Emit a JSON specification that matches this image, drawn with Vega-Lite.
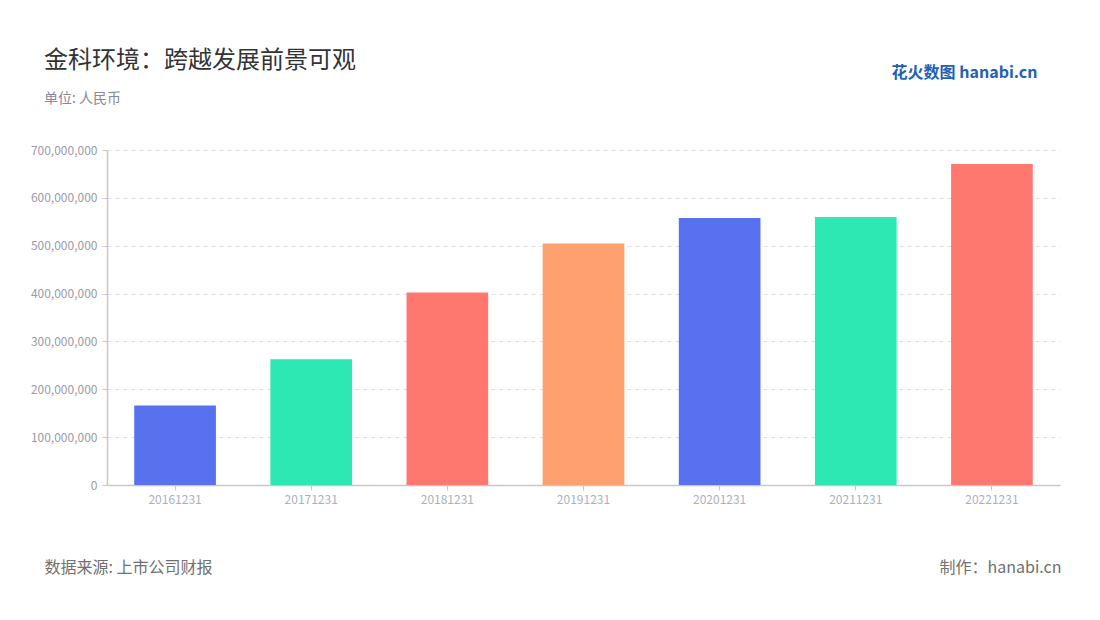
{
  "$schema": "https://vega.github.io/schema/vega-lite/v6.json",
  "autosize": {"type": "none"},
  "width": 953,
  "height": 335,
  "padding": {"left": 107, "top": 150, "right": 40, "bottom": 135},
  "background": "white",
  "config": {
    "font": "Noto Sans CJK SC",
    "view": {"stroke": null}
  },
  "title": {
    "text": "金科环境：跨越发展前景可观",
    "subtitle": "单位: 人民币",
    "anchor": "start",
    "frame": "group",
    "dx": -63,
    "offset": -42,
    "fontSize": 24,
    "fontWeight": "normal",
    "color": "#333333",
    "subtitleFontSize": 14,
    "subtitleColor": "#888899",
    "subtitlePadding": 19,
    "font": "Noto Sans CJK SC",
    "subtitleFont": "Noto Sans CJK SC"
  },
  "data": {
    "values": [
      {"date": "20161231", "value": 166000000},
      {"date": "20171231", "value": 263000000},
      {"date": "20181231", "value": 402000000},
      {"date": "20191231", "value": 504500000},
      {"date": "20201231", "value": 558000000},
      {"date": "20211231", "value": 560000000},
      {"date": "20221231", "value": 671000000}
    ]
  },
  "layer": [
    {
      "mark": {"type": "bar"},
      "encoding": {
        "x": {
          "field": "date",
          "type": "nominal",
          "sort": null,
          "scale": {"paddingInner": 0.4, "paddingOuter": 0.2},
          "axis": {
            "title": "数据来源: 上市公司财报",
            "titleAnchor": "start",
            "titleAlign": "left",
            "titleX": -63,
            "titleY": 82,
            "titleBaseline": "middle",
            "titleFontSize": 16,
            "titleFontWeight": "normal",
            "titleColor": "#707070",
            "titleFont": "Noto Sans CJK SC",
            "labelAngle": 0,
            "labelFontSize": 12,
            "labelColor": "#aab0bd",
            "labelPadding": 4,
            "labelFont": "Noto Sans CJK SC",
            "domainColor": "#c8c8c8",
            "domainWidth": 1.5,
            "tickColor": "#c8c8c8",
            "tickSize": 5,
            "grid": false
          }
        },
        "y": {
          "field": "value",
          "type": "quantitative",
          "scale": {"domain": [0, 700000000], "nice": false},
          "axis": {
            "values": [0, 100000000, 200000000, 300000000, 400000000, 500000000, 600000000, 700000000],
            "format": ",d",
            "title": "花火数图 hanabi.cn",
            "titleAngle": 0,
            "titleAlign": "right",
            "titleBaseline": "middle",
            "titleX": 930,
            "titleY": -78,
            "titleFontSize": 16,
            "titleFontWeight": "bold",
            "titleColor": "#2260b5",
            "titleFont": "Noto Sans CJK SC",
            "labelFontSize": 12,
            "labelColor": "#9a9aa6",
            "labelPadding": 5,
            "labelFont": "Noto Sans CJK SC",
            "domainColor": "#c8c8c8",
            "domainWidth": 1.5,
            "tickColor": "#c8c8c8",
            "tickSize": 5,
            "grid": true,
            "gridColor": "#e0e0e0",
            "gridDash": [4, 4],
            "gridWidth": 1
          }
        },
        "color": {
          "field": "date",
          "type": "nominal",
          "scale": {
            "domain": ["20161231", "20171231", "20181231", "20191231", "20201231", "20211231", "20221231"],
            "range": ["#5871ee", "#2de8b3", "#ff7870", "#ffa16e", "#5871ee", "#2de8b3", "#ff7870"]
          },
          "legend": null
        }
      }
    },
    {
      "mark": {"type": "bar", "opacity": 0},
      "encoding": {
        "x": {"field": "date", "type": "nominal", "sort": null},
        "y": {
          "field": "value",
          "type": "quantitative",
          "scale": {"domain": [0, 700000000], "nice": false},
          "axis": {
            "orient": "right",
            "title": "制作：hanabi.cn",
            "titleAngle": 0,
            "titleAlign": "right",
            "titleBaseline": "middle",
            "titleX": 1,
            "titleY": 417,
            "titleFontSize": 16,
            "titleFontWeight": "normal",
            "titleColor": "#707070",
            "titleFont": "Noto Sans CJK SC",
            "labels": false,
            "ticks": false,
            "domain": false,
            "grid": false
          }
        }
      }
    }
  ],
  "resolve": {"scale": {"y": "independent"}, "axis": {"y": "independent"}}
}
